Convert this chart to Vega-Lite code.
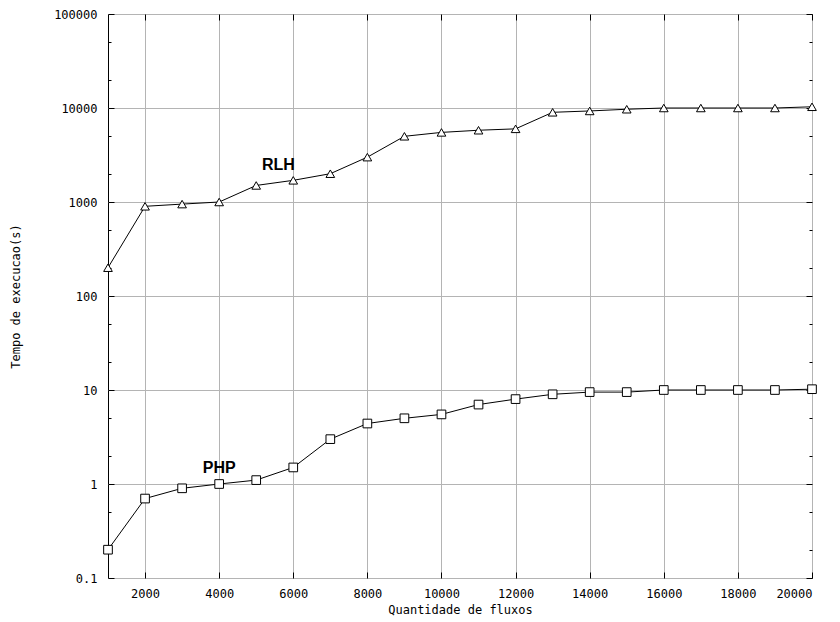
{
  "$schema": "https://vega.github.io/schema/vega-lite/v6.json",
  "width": 704,
  "height": 564,
  "autosize": {"type": "none"},
  "padding": {"left": 108, "top": 14, "right": 28, "bottom": 44},
  "background": "white",
  "config": {
    "view": {"stroke": "black", "strokeWidth": 1},
    "axis": {
      "labelFont": "DejaVu Sans Mono",
      "labelFontSize": 12,
      "labelColor": "black",
      "titleFont": "DejaVu Sans Mono",
      "titleFontSize": 12,
      "titleFontWeight": "normal",
      "titleColor": "black",
      "tickColor": "black",
      "tickWidth": 1,
      "domain": false,
      "gridColor": "#b4b4b4",
      "gridWidth": 1,
      "gridOpacity": 1
    }
  },
  "datasets": {
    "series": [
      {"flows": 1000, "time": 200, "series": "RLH"},
      {"flows": 2000, "time": 900, "series": "RLH"},
      {"flows": 3000, "time": 950, "series": "RLH"},
      {"flows": 4000, "time": 1000, "series": "RLH"},
      {"flows": 5000, "time": 1500, "series": "RLH"},
      {"flows": 6000, "time": 1700, "series": "RLH"},
      {"flows": 7000, "time": 2000, "series": "RLH"},
      {"flows": 8000, "time": 3000, "series": "RLH"},
      {"flows": 9000, "time": 5000, "series": "RLH"},
      {"flows": 10000, "time": 5500, "series": "RLH"},
      {"flows": 11000, "time": 5800, "series": "RLH"},
      {"flows": 12000, "time": 6000, "series": "RLH"},
      {"flows": 13000, "time": 9000, "series": "RLH"},
      {"flows": 14000, "time": 9300, "series": "RLH"},
      {"flows": 15000, "time": 9700, "series": "RLH"},
      {"flows": 16000, "time": 10000, "series": "RLH"},
      {"flows": 17000, "time": 10000, "series": "RLH"},
      {"flows": 18000, "time": 10000, "series": "RLH"},
      {"flows": 19000, "time": 10000, "series": "RLH"},
      {"flows": 20000, "time": 10300, "series": "RLH"},
      {"flows": 1000, "time": 0.2, "series": "PHP"},
      {"flows": 2000, "time": 0.7, "series": "PHP"},
      {"flows": 3000, "time": 0.9, "series": "PHP"},
      {"flows": 4000, "time": 1.0, "series": "PHP"},
      {"flows": 5000, "time": 1.1, "series": "PHP"},
      {"flows": 6000, "time": 1.5, "series": "PHP"},
      {"flows": 7000, "time": 3.0, "series": "PHP"},
      {"flows": 8000, "time": 4.4, "series": "PHP"},
      {"flows": 9000, "time": 5.0, "series": "PHP"},
      {"flows": 10000, "time": 5.5, "series": "PHP"},
      {"flows": 11000, "time": 7.0, "series": "PHP"},
      {"flows": 12000, "time": 8.0, "series": "PHP"},
      {"flows": 13000, "time": 9.0, "series": "PHP"},
      {"flows": 14000, "time": 9.5, "series": "PHP"},
      {"flows": 15000, "time": 9.5, "series": "PHP"},
      {"flows": 16000, "time": 10.0, "series": "PHP"},
      {"flows": 17000, "time": 10.0, "series": "PHP"},
      {"flows": 18000, "time": 10.0, "series": "PHP"},
      {"flows": 19000, "time": 10.0, "series": "PHP"},
      {"flows": 20000, "time": 10.2, "series": "PHP"}
    ],
    "labels": [
      {"flows": 5600, "time": 2480, "name": "RLH"},
      {"flows": 4000, "time": 1.48, "name": "PHP"}
    ]
  },
  "resolve": {"axis": {"x": "independent", "y": "independent"}},
  "layer": [
    {
      "data": {"name": "series"},
      "mark": {"type": "line", "color": "black", "strokeWidth": 1},
      "encoding": {
        "x": {
          "field": "flows", "type": "quantitative",
          "scale": {"domain": [1000, 20000], "nice": false, "zero": false},
          "axis": {
            "orient": "bottom",
            "title": "Quantidade de fluxos",
            "values": [2000, 4000, 6000, 8000, 10000, 12000, 14000, 16000, 18000, 20000],
            "labelExpr": "toString(datum.value)",
            "grid": true,
            "tickSize": -6,
            "labelPadding": 16,
            "titlePadding": 5
          }
        },
        "y": {
          "field": "time", "type": "quantitative",
          "scale": {"type": "log", "domain": [0.1, 100000], "nice": false},
          "axis": {
            "orient": "left",
            "title": "Tempo de execucao(s)",
            "values": [0.1, 0.2, 0.5, 1, 2, 5, 10, 20, 50, 100, 200, 500, 1000, 2000, 5000, 10000, 20000, 50000, 100000],
            "labelExpr": "abs(log(datum.value)/LN10 - round(log(datum.value)/LN10)) < 0.001 ? toString(datum.value) : ''",
            "grid": true,
            "gridOpacity": {"condition": {"test": "abs(log(datum.value)/LN10 - round(log(datum.value)/LN10)) < 0.001", "value": 1}, "value": 0},
            "tickSize": {"condition": {"test": "abs(log(datum.value)/LN10 - round(log(datum.value)/LN10)) < 0.001", "value": -6}, "value": -3},
            "labelPadding": 17,
            "titlePadding": 31
          }
        },
        "detail": {"field": "series"}
      }
    },
    {
      "data": {"name": "series"},
      "mark": {"type": "point", "filled": false, "fill": "white", "fillOpacity": 1, "stroke": "black", "strokeWidth": 1, "opacity": 1, "size": 75},
      "encoding": {
        "x": {
          "field": "flows", "type": "quantitative",
          "axis": {
            "orient": "top",
            "title": null,
            "values": [2000, 4000, 6000, 8000, 10000, 12000, 14000, 16000, 18000, 20000],
            "labels": false,
            "grid": false,
            "tickSize": -6
          }
        },
        "y": {
          "field": "time", "type": "quantitative",
          "axis": {
            "orient": "right",
            "title": null,
            "values": [0.1, 0.2, 0.5, 1, 2, 5, 10, 20, 50, 100, 200, 500, 1000, 2000, 5000, 10000, 20000, 50000, 100000],
            "labels": false,
            "grid": false,
            "tickSize": {"condition": {"test": "abs(log(datum.value)/LN10 - round(log(datum.value)/LN10)) < 0.001", "value": -6}, "value": -3}
          }
        },
        "shape": {
          "field": "series", "type": "nominal",
          "scale": {"domain": ["RLH", "PHP"], "range": ["triangle-up", "square"]},
          "legend": null
        }
      }
    },
    {
      "data": {"name": "labels"},
      "mark": {"type": "text", "font": "Liberation Sans", "fontWeight": "bold", "fontSize": 16, "color": "black"},
      "encoding": {
        "x": {"field": "flows", "type": "quantitative", "axis": null},
        "y": {"field": "time", "type": "quantitative", "axis": null},
        "text": {"field": "name"}
      }
    }
  ]
}
